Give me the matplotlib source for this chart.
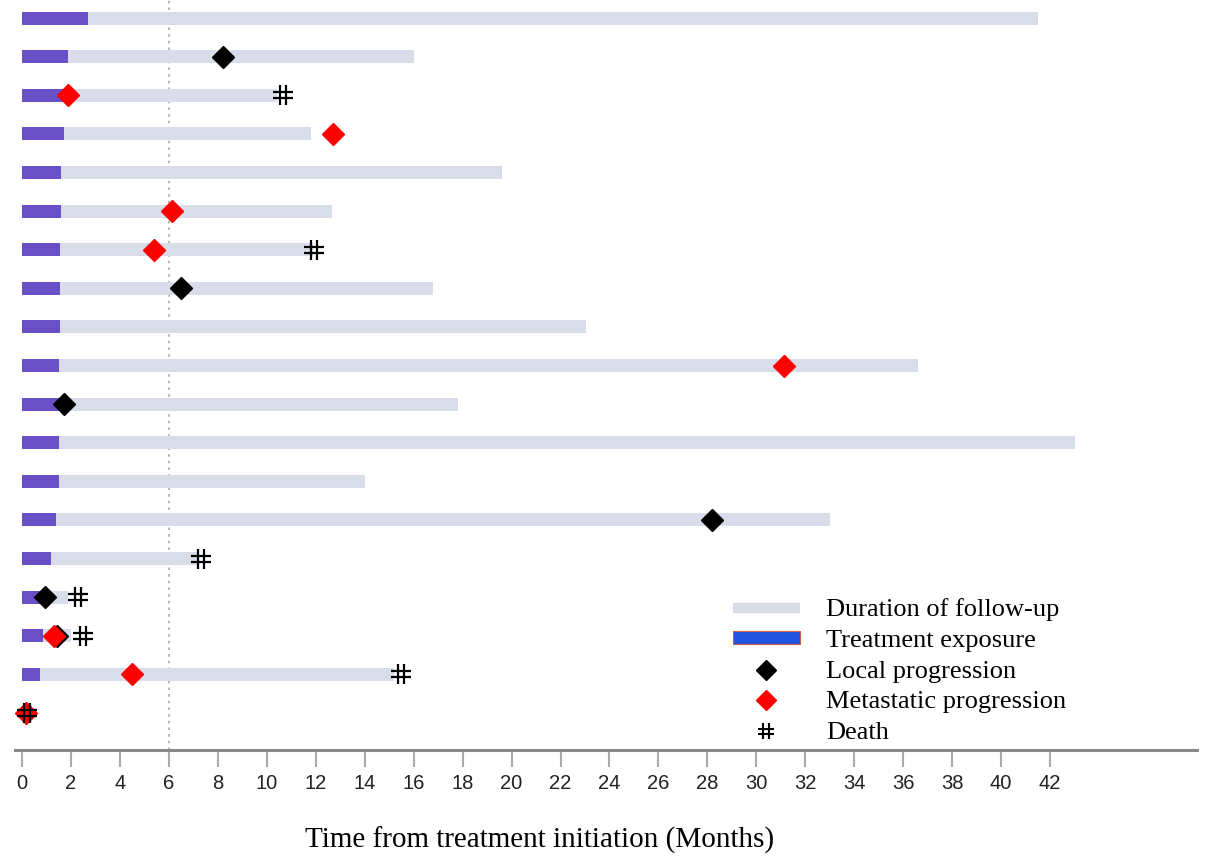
import matplotlib
matplotlib.use('Agg')
import matplotlib.pyplot as plt
from matplotlib.lines import Line2D
from matplotlib.patches import Patch
from matplotlib.path import Path

# months, one entry per patient (top to bottom)
followup = [41.5, 16.0, 10.4, 11.8, 19.6, 12.65, 11.9, 16.8, 23.05, 36.6,
            17.8, 43.0, 14.0, 33.0, 7.2, 1.9, 2.0, 15.2, 0.2]
treatment = [2.7, 1.9, 1.75, 1.7, 1.6, 1.6, 1.55, 1.55, 1.55, 1.5,
             1.5, 1.5, 1.5, 1.4, 1.2, 0.8, 0.85, 0.75, 0.0]

# events: (patient row, month)
local_rows = [1, 7, 10, 13, 15, 16]
local_t = [8.2, 6.5, 1.7, 28.2, 0.95, 1.45]
meta_rows = [2, 3, 5, 6, 9, 16, 17, 18]
meta_t = [1.9, 12.7, 6.15, 5.4, 31.15, 1.3, 4.5, 0.15]
death_rows = [2, 6, 14, 15, 16, 17, 18]
death_t = [10.65, 11.95, 7.3, 2.3, 2.5, 15.5, 0.2]

xticks = list(range(0, 43, 2))

fu_color = '#d9dde9'
tx_color = '#6a50c6'

# thin "#" sign used for death
M, L = Path.MOVETO, Path.LINETO
hash_mark = Path([(-0.33, -1), (-0.33, 1), (0.33, -1), (0.33, 1),
                  (-1, -0.3), (1, -0.3), (-1, 0.3), (1, 0.3)],
                 [M, L, M, L, M, L, M, L])

fig = plt.figure(figsize=(12.07, 8.57), dpi=100)
ax = fig.add_axes([0.0121, 0.1249, 0.9796, 0.8751])

rows = list(range(len(followup)))
ax.barh(rows, followup, height=0.34, color=fu_color, zorder=1)
ax.barh(rows, treatment, height=0.34, color=tx_color, zorder=2)
ax.axvline(6, color='#aaaaaa', linestyle=(0, (1.5, 2.5)), linewidth=1.2, zorder=0)

ax.plot(local_t, local_rows, 'D', color='black', ms=11.5, zorder=4, linestyle='none')
ax.plot(meta_t, meta_rows, 'D', color='red', ms=11.5, zorder=4, linestyle='none')
ax.plot(death_t, death_rows, marker=hash_mark, color='black', mec='black',
        ms=14, mew=1.6, zorder=5, linestyle='none')

ax.set_xlim(-0.3, 48)
ax.set_ylim(18.96, -0.47)
ax.set_yticks([])
ax.set_xticks(xticks)
ax.set_xticklabels([str(t) for t in xticks], fontsize=14.5, color='#222222',
                   family='Liberation Sans')
ax.tick_params(axis='x', direction='out', length=12, width=1.5, color='#aaaaaa', pad=5)
for s in ['top', 'left', 'right']:
    ax.spines[s].set_visible(False)
ax.spines['bottom'].set_color('#888888')
ax.spines['bottom'].set_linewidth(2.2)

fig.text(0.447, 0.02, 'Time from treatment initiation (Months)',
         family='Liberation Serif', fontsize=21, ha='center', va='center')

handles = [
    Line2D([], [], color=fu_color, linewidth=7.5, solid_capstyle='butt'),
    Patch(facecolor='#1f55e0', edgecolor='#d0603a', linewidth=0.8),
    Line2D([], [], marker='D', color='black', ms=10.5, linestyle='none'),
    Line2D([], [], marker='D', color='red', ms=10.5, linestyle='none'),
    Line2D([], [], marker=hash_mark, color='black', ms=12, mew=1.5, linestyle='none'),
]
labels = ['Duration of follow-up', 'Treatment exposure', 'Local progression',
          'Metastatic progression', 'Death']
fig.legend(handles, labels, loc='upper left', bbox_to_anchor=(0.607, 0.302),
           frameon=False, borderpad=0, borderaxespad=0, handlelength=2.55,
           handleheight=0.4, handletextpad=1.0, labelspacing=0.33,
           prop={'family': 'Liberation Serif', 'size': 19})

fig.savefig('out.png', dpi=100)
